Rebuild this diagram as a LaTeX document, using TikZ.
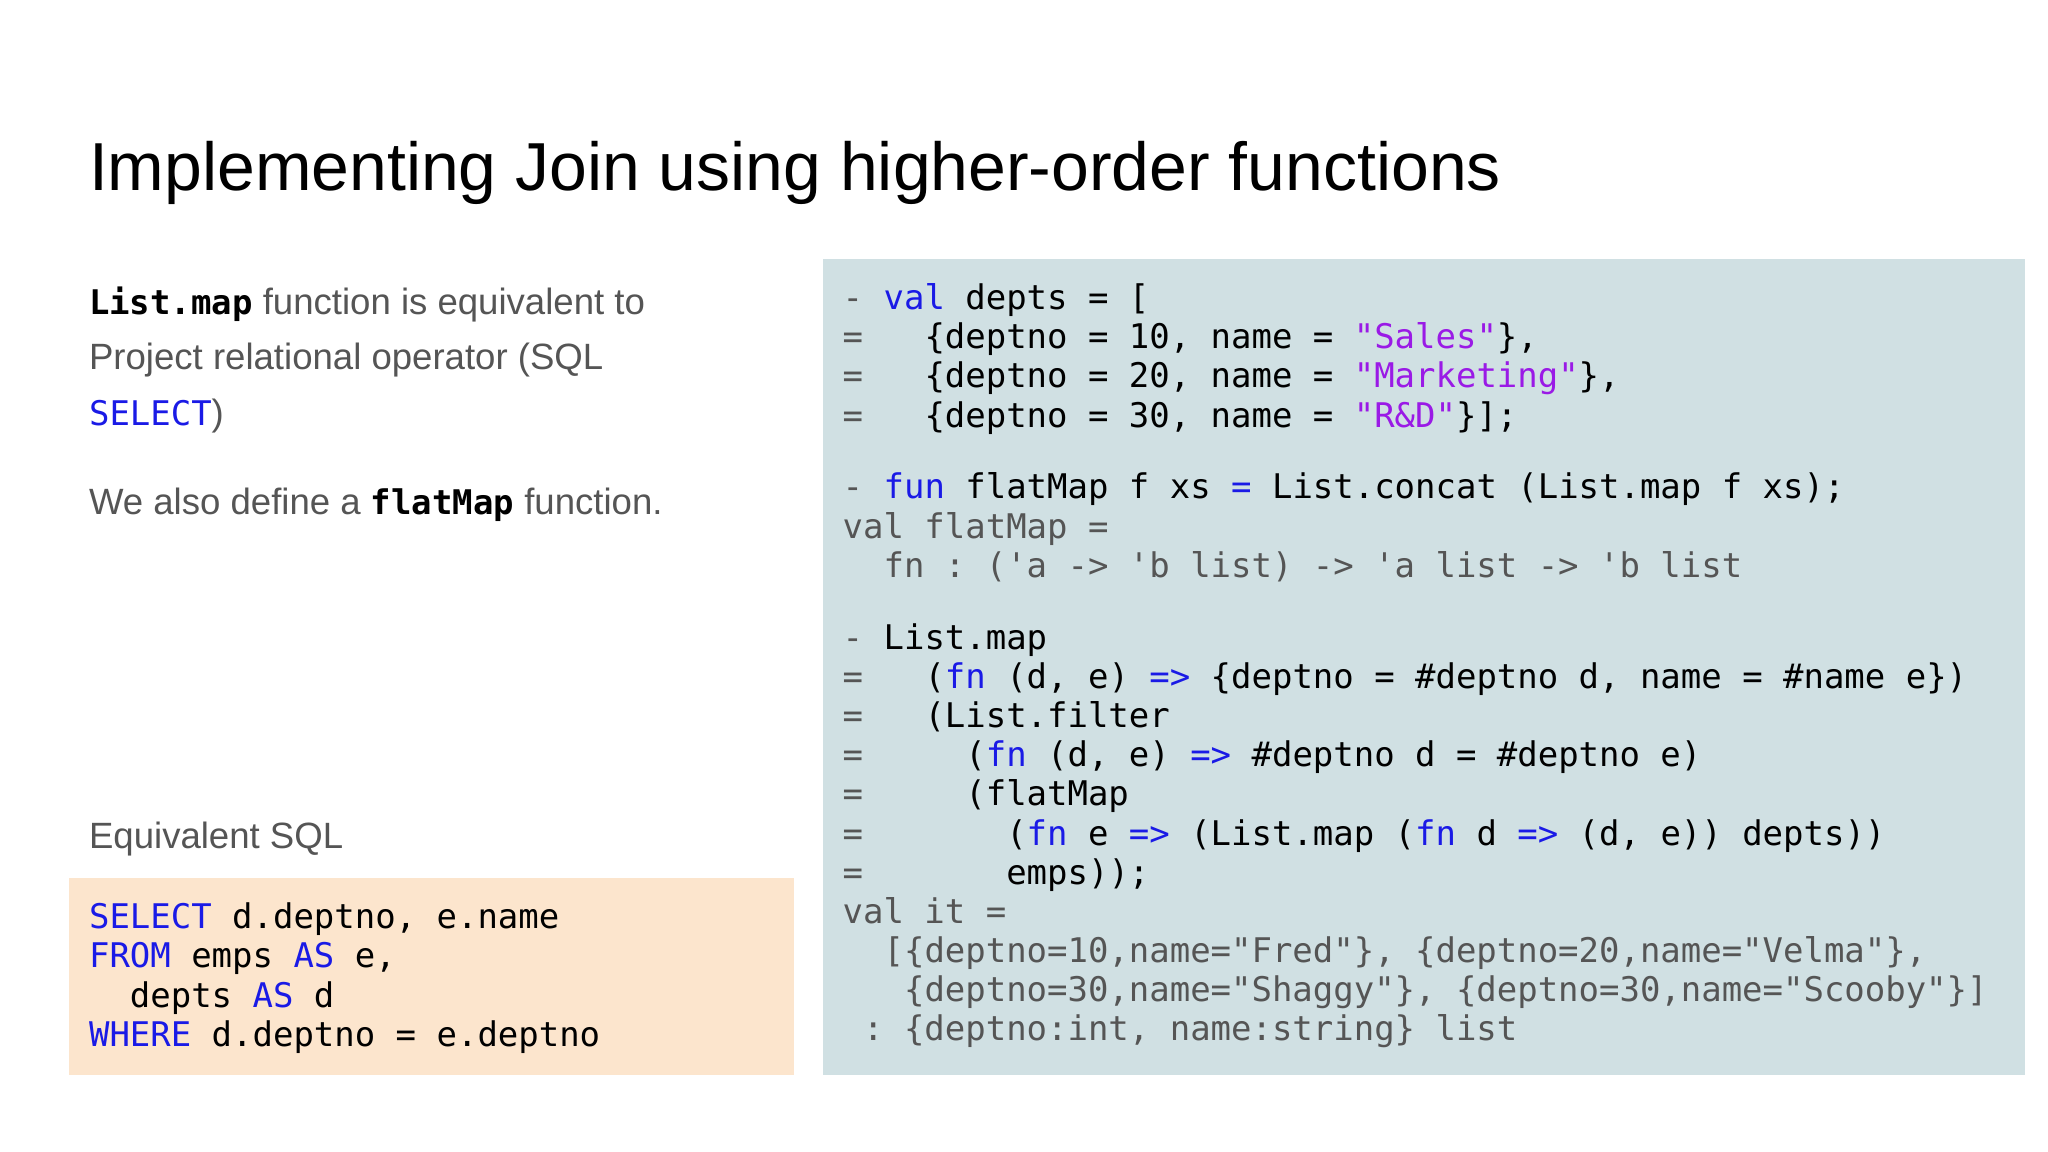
\documentclass[tikz,border=0pt]{standalone}
\usepackage{fontspec}
\setmainfont{Liberation Sans}
\setmonofont{DejaVu Sans Mono}
\definecolor{kw}{HTML}{1A1AE6}
\definecolor{str}{HTML}{9A1AE6}
\definecolor{gr}{HTML}{555555}
\definecolor{codebg}{HTML}{D0E0E3}
\definecolor{sqlbg}{HTML}{FCE5CD}
\newcommand{\K}[1]{\textcolor{kw}{#1}}
\newcommand{\Sx}[1]{\textcolor{str}{#1}}
\newcommand{\G}[1]{\textcolor{gr}{#1}}
\newcommand{\q}{\textquotesingle}
\begin{document}
\begin{tikzpicture}[x=1pt,y=-1pt,
  cl/.style={anchor=base west,inner sep=0pt,font=\fontsize{26}{30}\selectfont\ttfamily},
  tx/.style={anchor=base west,inner sep=0pt,text=gr,font=\fontsize{28}{34}\selectfont}]
\useasboundingbox (0,0) rectangle (1568,882);
\fill[white] (0,0) rectangle (1568,882);
\node[anchor=base west,inner sep=0pt,font=\fontsize{52}{60}\selectfont] (title) at (68,146) {Implementing Join using higher-order functions};
\fill[codebg] (630,198) rectangle (1550,823);
\fill[sqlbg] (53,672) rectangle (608,823);
% left text
\node[tx] (t1) at (68,241) {\textcolor{black}{\fontsize{26}{30}\selectfont\ttfamily\bfseries List.map} function is equivalent to};
\node[tx] (t2) at (68,283) {Project relational operator (SQL};
\node[tx] (t3) at (68,326) {\K{\fontsize{26}{30}\selectfont\ttfamily SELECT})};
\node[tx] (t4) at (68,394) {We also define a \textcolor{black}{\fontsize{26}{30}\selectfont\ttfamily\bfseries flatMap} function.};
\node[tx] (t5) at (68,650) {Equivalent SQL};
% SQL
\node[cl] (s1) at (68,711) {\K{SELECT} d.deptno, e.name};
\node[cl] (s2) at (68,741) {\K{FROM} emps \K{AS} e,};
\node[cl] (s3) at (68,771) {\ \ depts \K{AS} d};
\node[cl] (s4) at (68,801) {\K{WHERE} d.deptno = e.deptno};
% code
\node[cl] (c1) at (645,237) {\G{-} \K{val} depts = [};
\node[cl] (c2) at (645,267) {\G{=}\ \ \ \{deptno = 10, name = \Sx{"Sales"}\},};
\node[cl] (c3) at (645,297) {\G{=}\ \ \ \{deptno = 20, name = \Sx{"Marketing"}\},};
\node[cl] (c4) at (645,327) {\G{=}\ \ \ \{deptno = 30, name = \Sx{"R\&D"}\}];};
\node[cl] (c5) at (645,382) {\G{-} \K{fun} flatMap f xs \K{=} List.concat (List.map f xs);};
\node[cl,text=gr] (c6) at (645,412) {val flatMap =};
\node[cl,text=gr] (c7) at (645,442) {\ \ fn : (\q a -> \q b list) -> \q a list -> \q b list};
\node[cl] (c8) at (645,497) {\G{-} List.map};
\node[cl] (c9) at (645,527) {\G{=}\ \ \ (\K{fn} (d, e) \K{=>} \{deptno = \#deptno d, name = \#name e\})};
\node[cl] (c10) at (645,557) {\G{=}\ \ \ (List.filter};
\node[cl] (c11) at (645,587) {\G{=}\ \ \ \ \ (\K{fn} (d, e) \K{=>} \#deptno d = \#deptno e)};
\node[cl] (c12) at (645,617) {\G{=}\ \ \ \ \ (flatMap};
\node[cl] (c13) at (645,647) {\G{=}\ \ \ \ \ \ \ (\K{fn} e \K{=>} (List.map (\K{fn} d \K{=>} (d, e)) depts))};
\node[cl] (c14) at (645,677) {\G{=}\ \ \ \ \ \ \ emps));};
\node[cl,text=gr] (c15) at (645,707) {val it =};
\node[cl,text=gr] (c16) at (645,737) {\ \ [\{deptno=10,name="Fred"\}, \{deptno=20,name="Velma"\},};
\node[cl,text=gr] (c17) at (645,767) {\ \ \ \{deptno=30,name="Shaggy"\}, \{deptno=30,name="Scooby"\}]};
\node[cl,text=gr] (c18) at (645,797) {\ : \{deptno:int, name:string\} list};
\end{tikzpicture}
\end{document}
